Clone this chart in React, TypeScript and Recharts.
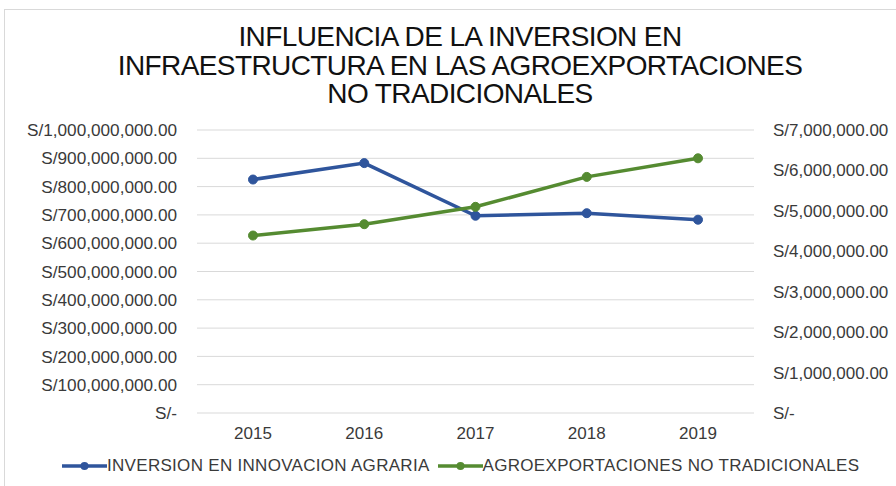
import { CartesianGrid, Line, LineChart, XAxis, YAxis } from "recharts";

const years = ["2015", "2016", "2017", "2018", "2019"];
const inversion = [825000000, 883000000, 697000000, 706000000, 683000000];
const agroexport = [4390000, 4670000, 5100000, 5840000, 6300000];
const leftTicks = [0, 100000000, 200000000, 300000000, 400000000, 500000000, 600000000, 700000000, 800000000, 900000000, 1000000000];
const rightTicks = [0, 1000000, 2000000, 3000000, 4000000, 5000000, 6000000, 7000000];
const titleLines = ["INFLUENCIA DE LA INVERSION EN", "INFRAESTRUCTURA EN LAS AGROEXPORTACIONES", "NO TRADICIONALES"];
const seriesNames = ["INVERSION EN INNOVACION AGRARIA", "AGROEXPORTACIONES NO TRADICIONALES"];

const BLUE = "#2f559c";
const GREEN = "#558b31";
const FONT = "'Liberation Sans', Arial, sans-serif";
const TEXT = "#3a3a3a";

const data = years.map((year, i) => ({ year, inversion: inversion[i], agro: agroexport[i] }));

function soles(value: number) {
  if (value === 0) return "S/-";
  return "S/" + value.toLocaleString("en-US", { minimumFractionDigits: 2, maximumFractionDigits: 2 });
}

function ChartLegend() {
  const colors = [BLUE, GREEN];
  return (
    <div
      style={{
        position: "absolute",
        left: 62,
        top: 456,
        display: "flex",
        alignItems: "center",
        fontFamily: FONT,
        fontSize: 17,
        color: TEXT,
        letterSpacing: 0.3,
        whiteSpace: "nowrap",
      }}
    >
      {seriesNames.map((name, i) => (
        <div key={name} style={{ display: "flex", alignItems: "center", marginRight: 8 }}>
          <svg width={45} height={12}>
            <line x1={0} y1={6} x2={45} y2={6} stroke={colors[i]} strokeWidth={3.5} />
            <circle cx={22.5} cy={6} r={4} fill={colors[i]} />
          </svg>
          <span>{name}</span>
        </div>
      ))}
    </div>
  );
}

export default function App() {
  return (
    <div style={{ position: "absolute", left: 0, top: 0, width: 896, height: 486, overflow: "hidden", background: "#fff" }}>
      <div style={{ position: "absolute", left: 4, top: 9, width: 1000, height: 600, border: "1px solid #d9d9d9" }} />
      <div
        style={{
          position: "absolute",
          left: 60,
          top: 23,
          width: 800,
          textAlign: "center",
          fontFamily: FONT,
          fontSize: 28,
          lineHeight: "28.5px",
          letterSpacing: -0.6,
          color: "#111",
        }}
      >
        {titleLines.map((line) => (
          <div key={line}>{line}</div>
        ))}
      </div>
      <div style={{ position: "absolute", left: 0, top: 0 }}>
        <LineChart width={900} height={486} data={data} margin={{ top: 130, right: 0, bottom: 0, left: 0 }}>
          <CartesianGrid yAxisId="left" vertical={false} stroke="#d9d9d9" strokeWidth={1} />
          <XAxis
            dataKey="year"
            axisLine={false}
            tickLine={false}
            tickSize={0}
            tickMargin={14}
            height={73}
            padding={{ left: 56, right: 56 }}
            tick={{ fill: TEXT, fontSize: 17, fontFamily: FONT }}
          />
          <YAxis
            yAxisId="left"
            orientation="left"
            width={197}
            domain={[0, 1000000000]}
            ticks={leftTicks}
            tickFormatter={soles}
            axisLine={false}
            tickLine={false}
            tickSize={0}
            tickMargin={20}
            interval={0}
            tick={{ fill: TEXT, fontSize: 17.2, fontFamily: FONT }}
          />
          <YAxis
            yAxisId="right"
            orientation="right"
            width={146}
            domain={[0, 7000000]}
            ticks={rightTicks}
            tickFormatter={soles}
            axisLine={false}
            tickLine={false}
            tickSize={0}
            tickMargin={19}
            interval={0}
            tick={{ fill: TEXT, fontSize: 17, fontFamily: FONT, textAnchor: "start" }}
          />
          <Line
            yAxisId="left"
            dataKey="inversion"
            name={seriesNames[0]}
            stroke={BLUE}
            strokeWidth={3.5}
            dot={{ r: 4.5, fill: BLUE, stroke: BLUE, strokeWidth: 1 }}
            isAnimationActive={false}
          />
          <Line
            yAxisId="right"
            dataKey="agro"
            name={seriesNames[1]}
            stroke={GREEN}
            strokeWidth={3.5}
            dot={{ r: 4.5, fill: GREEN, stroke: GREEN, strokeWidth: 1 }}
            isAnimationActive={false}
          />
        </LineChart>
      </div>
      <ChartLegend />
    </div>
  );
}
